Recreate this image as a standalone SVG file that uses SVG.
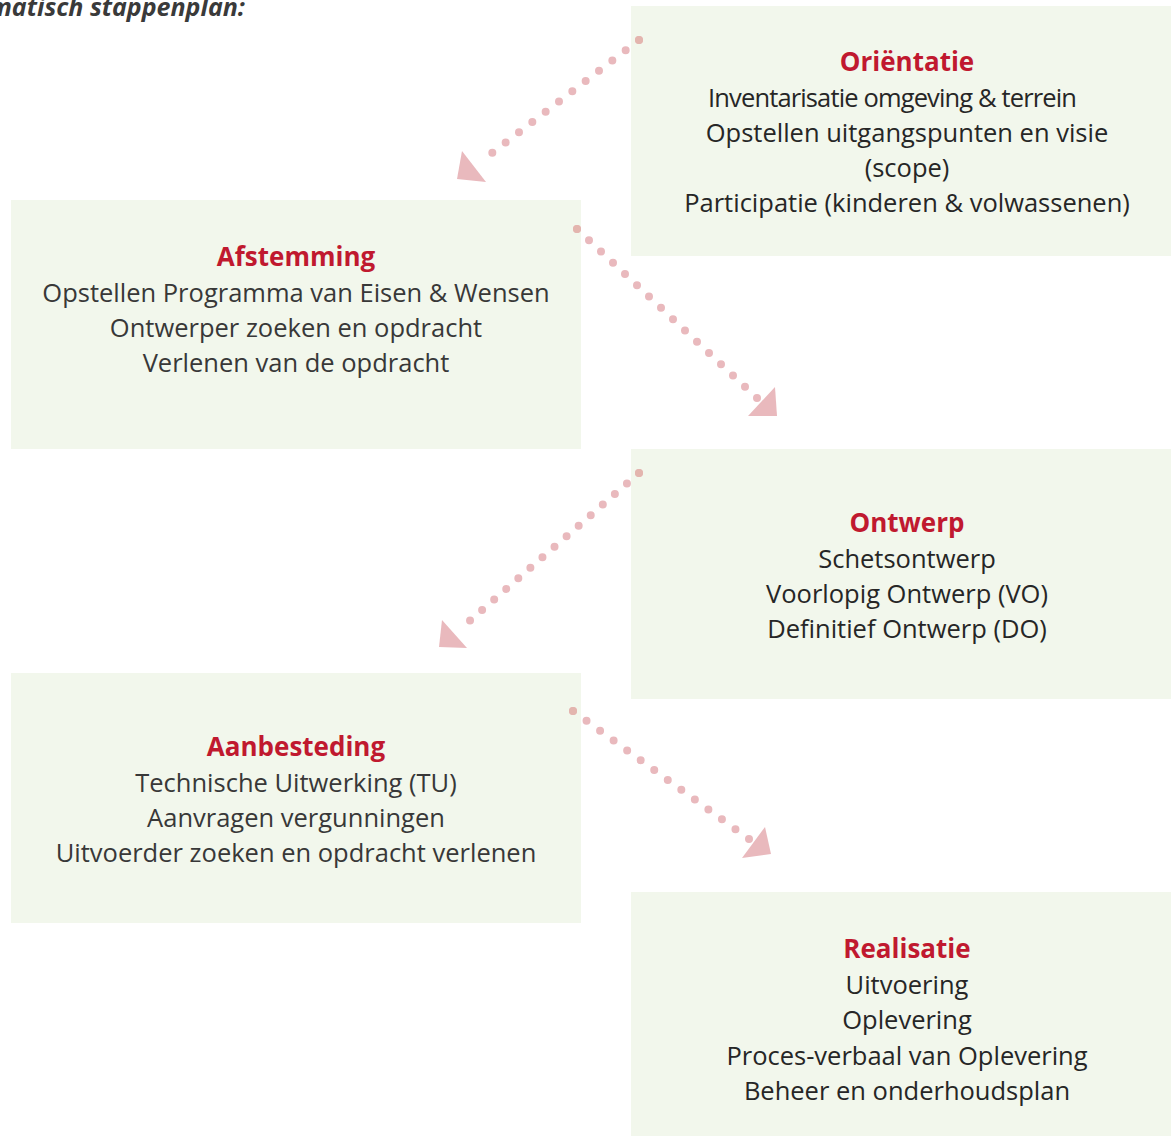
<svg xmlns="http://www.w3.org/2000/svg" width="1171" height="1136" viewBox="0 0 1171 1136">
<style>
.box{fill:#f2f7ec}
.t{font-family:"Open Sans","Noto Sans",sans-serif;font-size:25.5px;text-anchor:middle;fill:#262626}
.l .t{fill:#383838}
.h{font-family:"Open Sans","Noto Sans",sans-serif;font-size:26px;font-weight:bold;text-anchor:middle;fill:#c0192f}
.dots{fill:none;stroke:#e9b9bd;stroke-width:8;stroke-linecap:round}
.head{fill:#e9b9bd}
.start{fill:#e3b5ae}
.title{font-family:"Open Sans","Noto Sans",sans-serif;font-size:25px;font-weight:bold;font-style:italic;fill:#3a3a3a;text-anchor:end}
</style>
<rect width="1171" height="1136" fill="#ffffff"/>
<text class="title" x="245" y="15.5">Schematisch stappenplan:</text>

<g id="orientatie">
<rect class="box" x="631" y="6" width="540" height="250"/>
<text class="h" x="907" y="71">Oriëntatie</text>
<text class="t" x="892.5" y="106.5" textLength="369" lengthAdjust="spacing">Inventarisatie omgeving &amp; terrein</text>
<text class="t" x="907" y="141.5">Opstellen uitgangspunten en visie</text>
<text class="t" x="907" y="176.5">(scope)</text>
<text class="t" x="907" y="211.5">Participatie (kinderen &amp; volwassenen)</text>
</g>

<g id="afstemming" class="l">
<rect class="box" x="11" y="200" width="570" height="249"/>
<text class="h" x="296" y="266">Afstemming</text>
<text class="t" x="296" y="301.5">Opstellen Programma van Eisen &amp; Wensen</text>
<text class="t" x="296" y="336.5">Ontwerper zoeken en opdracht</text>
<text class="t" x="296" y="371.5">Verlenen van de opdracht</text>
</g>

<g id="ontwerp">
<rect class="box" x="631" y="449" width="540" height="250"/>
<text class="h" x="907" y="532">Ontwerp</text>
<text class="t" x="907" y="567.5">Schetsontwerp</text>
<text class="t" x="907" y="603">Voorlopig Ontwerp (VO)</text>
<text class="t" x="907" y="638">Definitief Ontwerp (DO)</text>
</g>

<g id="aanbesteding" class="l">
<rect class="box" x="11" y="673" width="570" height="250"/>
<text class="h" x="296" y="756">Aanbesteding</text>
<text class="t" x="296" y="792">Technische Uitwerking (TU)</text>
<text class="t" x="296" y="827">Aanvragen vergunningen</text>
<text class="t" x="296" y="862">Uitvoerder zoeken en opdracht verlenen</text>
</g>

<g id="realisatie">
<rect class="box" x="631" y="892" width="540" height="244"/>
<text class="h" x="907" y="958">Realisatie</text>
<text class="t" x="907" y="994">Uitvoering</text>
<text class="t" x="907" y="1029">Oplevering</text>
<text class="t" x="907" y="1065">Proces-verbaal van Oplevering</text>
<text class="t" x="907" y="1099.5">Beheer en onderhoudsplan</text>
</g>

<g id="connectors">
<line class="dots" x1="639" y1="40" x2="479" y2="163" style="stroke-dasharray:0 16.82"/>
<circle class="start" cx="639" cy="40" r="4"/>
<polygon class="head" points="462,151 457,179 486,182"/>

<line class="dots" x1="577" y1="229" x2="757" y2="398" style="stroke-dasharray:0 16.46"/>
<circle class="start" cx="577" cy="229" r="4"/>
<polygon class="head" points="775,387 777,416 748,416"/>

<line class="dots" x1="639" y1="473" x2="458" y2="631" style="stroke-dasharray:0 16.02"/>
<circle class="start" cx="639" cy="473" r="4"/>
<polygon class="head" points="442,620 439,647 467,648"/>

<line class="dots" x1="573" y1="711" x2="749" y2="839" style="stroke-dasharray:0 16.74"/>
<circle class="start" cx="573" cy="711" r="4"/>
<polygon class="head" points="765,827 771,854 742,858"/>
</g>
</svg>
